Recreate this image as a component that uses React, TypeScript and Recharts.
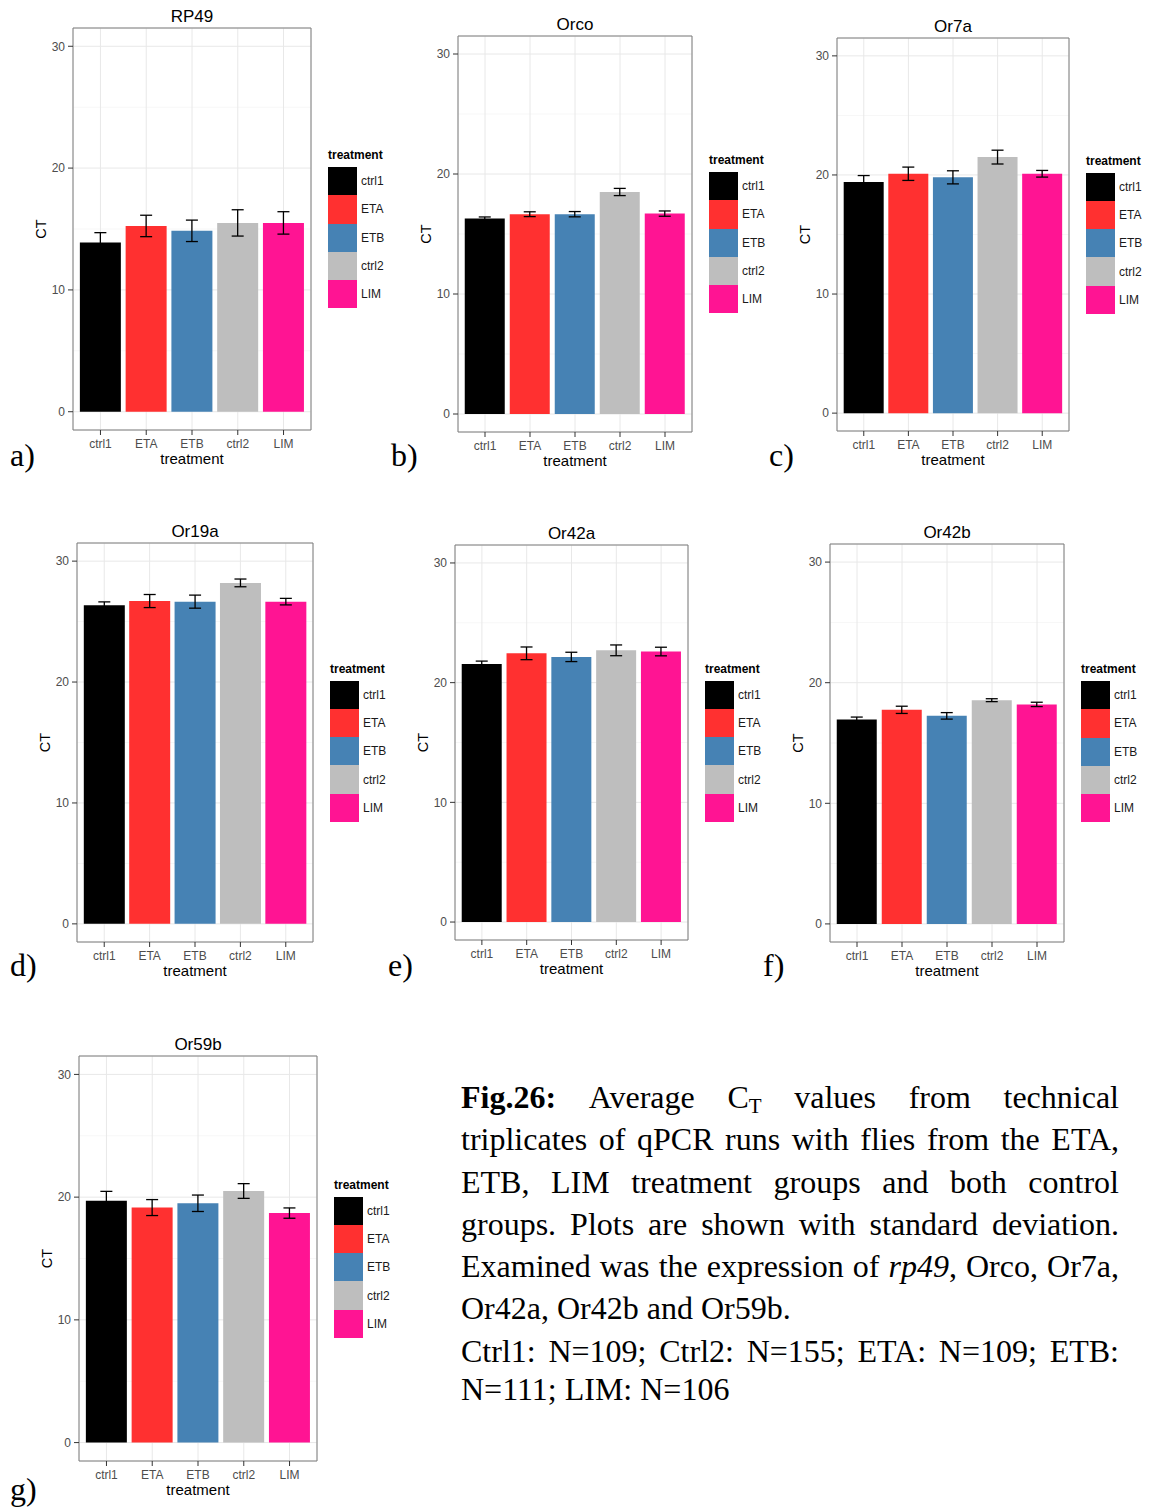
import { BarChart, Bar, Cell, XAxis, YAxis, CartesianGrid, ErrorBar, ReferenceArea, Legend } from 'recharts';

const CATEGORIES = ['ctrl1', 'ETA', 'ETB', 'ctrl2', 'LIM'];
const COLORS = ['#000000', '#FF3030', '#4682B4', '#BEBEBE', '#FF1493'];

// mean CT and standard deviation per treatment group
const RP49_CT = [13.9, 15.25, 14.85, 15.5, 15.5];
const RP49_SD = [0.8, 0.88, 0.88, 1.08, 0.92];
const ORCO_CT = [16.3, 16.65, 16.65, 18.5, 16.7];
const ORCO_SD = [0.12, 0.2, 0.22, 0.3, 0.22];
const OR7A_CT = [19.4, 20.1, 19.8, 21.5, 20.1];
const OR7A_SD = [0.55, 0.56, 0.55, 0.58, 0.28];
const OR19A_CT = [26.35, 26.7, 26.65, 28.2, 26.65];
const OR19A_SD = [0.28, 0.54, 0.54, 0.32, 0.27];
const OR42A_CT = [21.55, 22.45, 22.15, 22.7, 22.6];
const OR42A_SD = [0.25, 0.53, 0.39, 0.45, 0.36];
const OR42B_CT = [16.95, 17.75, 17.25, 18.55, 18.2];
const OR42B_SD = [0.2, 0.3, 0.27, 0.12, 0.18];
const OR59B_CT = [19.7, 19.15, 19.5, 20.5, 18.7];
const OR59B_SD = [0.77, 0.65, 0.67, 0.6, 0.42];

const Y_TICKS = [0, 10, 20, 30];
const Y_MINOR = [5, 15, 25];
const Y_DOMAIN = [-1.5, 31.5];
const X_TICKS = [1, 2, 3, 4, 5];
const X_DOMAIN = [0.4, 5.6];

const SANS = "'Liberation Sans', Arial, Helvetica, sans-serif";
const SERIF = "'Liberation Serif', 'Times New Roman', Times, serif";

// plot panel boxes on the page
const PANELS = [
  { title: 'RP49', mean: RP49_CT, sd: RP49_SD, box: { x: 73, y: 28, w: 238, h: 402 } },
  { title: 'Orco', mean: ORCO_CT, sd: ORCO_SD, box: { x: 458, y: 36, w: 234, h: 396 } },
  { title: 'Or7a', mean: OR7A_CT, sd: OR7A_SD, box: { x: 837, y: 38, w: 232, h: 393 } },
  { title: 'Or19a', mean: OR19A_CT, sd: OR19A_SD, box: { x: 77, y: 543, w: 236, h: 399 } },
  { title: 'Or42a', mean: OR42A_CT, sd: OR42A_SD, box: { x: 455, y: 545, w: 233, h: 395 } },
  { title: 'Or42b', mean: OR42B_CT, sd: OR42B_SD, box: { x: 830, y: 544, w: 234, h: 398 } },
  { title: 'Or59b', mean: OR59B_CT, sd: OR59B_SD, box: { x: 79, y: 1056, w: 238, h: 405 } },
];

const LETTERS = [
  { text: 'a)', x: 10, y: 439 },
  { text: 'b)', x: 391, y: 439 },
  { text: 'c)', x: 769, y: 439 },
  { text: 'd)', x: 10, y: 949 },
  { text: 'e)', x: 388, y: 949 },
  { text: 'f)', x: 763, y: 949 },
  { text: 'g)', x: 10, y: 1473 },
];

const ML = 70;
const MT = 30;
const MR = 80;
const MB = 45;
const KEY_H = 28.3;

const LegendBlock = () => (
  <div style={{ fontFamily: SANS, color: '#000' }}>
    <div style={{ fontWeight: 'bold', fontSize: 12, lineHeight: '12px', height: 18 }}>treatment</div>
    {CATEGORIES.map((c, i) => (
      <div key={c} style={{ display: 'flex', alignItems: 'center', height: KEY_H }}>
        <div style={{ width: 29, height: KEY_H, background: COLORS[i] }} />
        <span style={{ marginLeft: 4, fontSize: 12, color: '#1a1a1a' }}>{c}</span>
      </div>
    ))}
  </div>
);

function Panel({ title, mean, sd, box }: any) {
  const data = CATEGORIES.map((name, i) => ({ name, pos: i + 1, value: mean[i], err: sd[i] }));
  const width = ML + box.w + MR;
  const height = MT + box.h + MB;
  const tick = { fontSize: 12, fill: '#4d4d4d', fontFamily: SANS };

  return (
    <div style={{ position: 'absolute', left: box.x - ML, top: box.y - MT, width, height }}>
      <BarChart
        width={width}
        height={height}
        data={data}
        margin={{ top: MT, right: MR, bottom: MB - 40, left: ML - 40 }}
        barCategoryGap="5%"
      >
        <CartesianGrid horizontalValues={Y_MINOR} vertical={false} stroke="#f7f7f7" />
        <CartesianGrid stroke="#e8e8e8" />
        <XAxis
          type="number"
          dataKey="pos"
          domain={X_DOMAIN}
          ticks={X_TICKS}
          interval={0}
          height={40}
          axisLine={false}
          tickLine={{ stroke: '#333' }}
          tickSize={5}
          tickMargin={4}
          tick={tick}
          tickFormatter={(v: number) => CATEGORIES[v - 1]}
          label={{ value: 'treatment', position: 'insideBottom', offset: 6, fontSize: 15, fill: '#000', fontFamily: SANS }}
        />
        <YAxis
          type="number"
          domain={Y_DOMAIN}
          ticks={Y_TICKS}
          interval={0}
          width={40}
          axisLine={false}
          tickLine={{ stroke: '#333' }}
          tickSize={5}
          tickMargin={3}
          tick={tick}
          label={{
            value: 'CT',
            angle: -90,
            position: 'insideLeft',
            offset: 8,
            fontSize: 14.5,
            fill: '#000',
            fontFamily: SANS,
            style: { textAnchor: 'middle' },
          }}
        />
        <Bar dataKey="value" isAnimationActive={false}>
          {data.map((d, i) => (
            <Cell key={d.name} fill={COLORS[i]} />
          ))}
          <ErrorBar dataKey="err" width={6} stroke="#000" strokeWidth={1.3} />
        </Bar>
        <ReferenceArea
          x1={X_DOMAIN[0]}
          x2={X_DOMAIN[1]}
          y1={Y_DOMAIN[0]}
          y2={Y_DOMAIN[1]}
          fill="none"
          fillOpacity={0}
          stroke="#7f7f7f"
          strokeWidth={1}
          ifOverflow="visible"
        />
        <Legend
          layout="vertical"
          align="center"
          verticalAlign="middle"
          content={LegendBlock}
          wrapperStyle={{ left: ML + box.w + 17, top: MT + box.h / 2 - 80, width: 72 }}
        />
      </BarChart>
      <div
        style={{
          position: 'absolute',
          left: ML,
          width: box.w,
          top: MT - 20.4,
          textAlign: 'center',
          fontSize: 17,
          lineHeight: '17px',
          fontFamily: SANS,
          color: '#000',
        }}
      >
        {title}
      </div>
    </div>
  );
}

const justified = { textAlign: 'justify' as const, textAlignLast: 'justify' as const, whiteSpace: 'nowrap' as const };

export default function App() {
  return (
    <div style={{ position: 'absolute', left: 0, top: 0, width: 1154, height: 1508, background: '#fff', overflow: 'hidden' }}>
      {PANELS.map((p) => (
        <Panel key={p.title} {...p} />
      ))}
      {LETTERS.map((l) => (
        <div
          key={l.text}
          style={{ position: 'absolute', left: l.x, top: l.y, fontFamily: SERIF, fontSize: 32, lineHeight: '32px', color: '#000' }}
        >
          {l.text}
        </div>
      ))}
      <div
        style={{
          position: 'absolute',
          left: 461,
          top: 1076,
          width: 658,
          fontFamily: SERIF,
          fontSize: 32,
          lineHeight: '42.3px',
          color: '#000',
        }}
      >
        <div style={{ ...justified, display: 'flex', justifyContent: 'space-between' }}>
          <b>Fig.26:</b>
          <span>Average</span>
          <span>
            C<sub style={{ fontSize: 21, verticalAlign: '-5px', lineHeight: 0 }}>T</sub>
          </span>
          <span>values</span>
          <span>from</span>
          <span>technical</span>
        </div>
        <div style={justified}>triplicates of qPCR runs with flies from the ETA,</div>
        <div style={justified}>ETB, LIM treatment groups and both control</div>
        <div style={justified}>groups. Plots are shown with standard deviation.</div>
        <div style={justified}>
          Examined was the expression of <i>rp49</i>, Orco, Or7a,
        </div>
        <div>Or42a, Or42b and Or59b.</div>
        <div style={justified}>Ctrl1: N=109; Ctrl2: N=155; ETA: N=109; ETB:</div>
        <div style={{ marginTop: -4 }}>N=111; LIM: N=106</div>
      </div>
    </div>
  );
}
